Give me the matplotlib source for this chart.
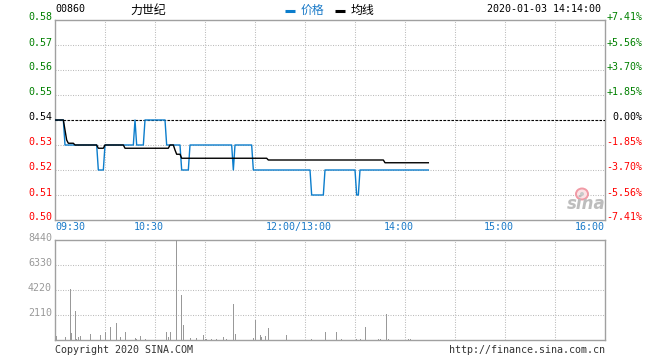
import matplotlib
matplotlib.use("Agg")
import matplotlib.pyplot as plt
import matplotlib.transforms as mtransforms
from matplotlib.patches import Ellipse

# ---------------- data ----------------
code = "00860"
name = "力世纪"
timestamp = "2020-01-03 14:14:00"
prev_close = 0.54

price_min = [0, 5, 6, 25, 26, 29, 30, 47, 48, 49, 53, 54, 66, 67, 75, 76, 80, 81,
             106, 107, 108, 118, 119, 153, 154, 161, 162, 180, 181, 182, 183, 224]
price_val = [.54, .54, .53, .53, .52, .52, .53, .53, .54, .53, .53, .54, .54, .53, .53,
             .52, .52, .53, .53, .52, .53, .53, .52, .52, .51, .51, .52, .52, .51, .51,
             .52, .52]

avg_min = [0, 5, 6, 7, 8, 11, 12, 25, 26, 29, 30, 41, 42, 68, 69, 71, 72, 73, 75, 76,
           127, 128, 197, 198, 224]
avg_val = [.54, .54, .536, .532, .5307, .5307, .53, .53, .5287, .5287, .53, .53, .5287,
           .5287, .53, .53, .528, .5263, .5263, .5247, .5247, .524, .524, .5229, .5229]

vol_min = [1, 6, 9, 10, 12, 13, 14, 15, 21, 27, 30, 33, 37, 39, 42, 48, 49, 51, 54, 67,
           68, 69, 73, 76, 77, 81, 85, 89, 90, 91, 94, 97, 101, 103, 107, 108, 119, 120,
           123, 124, 126, 128, 139, 154, 162, 169, 172, 181, 183, 186, 194, 195, 199,
           200, 212, 213]
vol = [338, 225, 4300, 590, 2450, 60, 280, 340, 500, 420, 650, 1125, 1435, 250, 675, 170,
       110, 340, 56, 675, 280, 675, 8440, 3800, 1270, 170, 170, 420, 110, 80, 80, 80, 250,
       80, 3040, 510, 140, 1690, 420, 280, 340, 1010, 420, 80, 675, 675, 56, 60, 60, 1100,
       60, 60, 2170, 60, 60, 60]

price_ticks = [0.50, 0.51, 0.52, 0.53, 0.54, 0.55, 0.56, 0.57, 0.58]
vol_ticks = [2110, 4220, 6330, 8440]
time_pos = [0, 60, 150, 210, 270, 330]
time_labels = ["09:30", "10:30", "12:00/13:00", "14:00", "15:00", "16:00"]

# ---------------- style ----------------
W, H = 660, 360
MONO = "DejaVu Sans Mono"
CJK = ["Noto Sans CJK SC", "DejaVu Sans"]
FS = 7.2
BLUE = "#0b7dcc"
TBLUE = "#1a7ac8"
GREEN = "#008000"
RED = "#ff0000"
BORDER = "#a0a0a0"
GRID = "#bcbcbc"
VOLC = "#999999"

fig = plt.figure(figsize=(W / 100, H / 100), dpi=100)


def fx(x):
    return x / W


def fy(y):
    return 1 - y / H


def box(l, t, r, b):
    return [fx(l), fy(b), (r - l) / W, (b - t) / H]


ax = fig.add_axes(box(55, 20, 605, 220))
axv = fig.add_axes(box(55, 240, 605, 340))

for a in (ax, axv):
    a.set_xlim(0, 330)
    for s in a.spines.values():
        s.set_color(BORDER)
        s.set_linewidth(1.0)
    a.tick_params(left=False, bottom=False, labelleft=False, labelbottom=False)
    a.set_xticks([30 * k for k in range(1, 11)])
    a.grid(True, color=GRID, linestyle=(0, (1, 1.4)), linewidth=0.75)
    a.set_axisbelow(True)

ax.set_ylim(0.50, 0.58)
ax.set_yticks(price_ticks[1:-1])
axv.set_ylim(0, 8440)
axv.set_yticks(vol_ticks[:-1])

# prev-close dashed line
ax.axhline(prev_close, color="black", linestyle=(0, (2.2, 1.4)), linewidth=0.8, zorder=3)
# price and average lines
ax.plot(price_min, price_val, color=BLUE, linewidth=1.0, zorder=4)
ax.plot(avg_min, avg_val, color="black", linewidth=1.0, zorder=5)

# volume bars
axv.bar(vol_min, vol, width=0.6, color=VOLC, linewidth=0, zorder=3)

# left & right price labels
ytr = ax.get_yaxis_transform()
left_tr = mtransforms.offset_copy(ytr, fig=fig, x=-3, y=2.5, units="dots")
right_tr = mtransforms.offset_copy(ytr, fig=fig, x=37.5, y=2.5, units="dots")
for p in price_ticks:
    if p > prev_close + 1e-9:
        c = GREEN
    elif p < prev_close - 1e-9:
        c = RED
    else:
        c = "black"
    ax.text(0, p, f"{p:.2f}", transform=left_tr, ha="right", va="center",
            fontsize=FS, family=MONO, color=c)
    pct = (p - prev_close) / prev_close * 100
    lab = f"{pct:+.2f}%" if abs(pct) > 1e-9 else "0.00%"
    ax.text(1, p, lab, transform=right_tr, ha="right", va="center",
            fontsize=FS, family=MONO, color=c)

# volume labels
vtr = mtransforms.offset_copy(axv.get_yaxis_transform(), fig=fig, x=-3, y=2,
                              units="dots")
for v in vol_ticks:
    axv.text(0, v, f"{v}", transform=vtr, ha="right", va="center",
             fontsize=FS, family=MONO, color=VOLC)

# time labels
xtr = ax.get_xaxis_transform()
for i, (t, lab) in enumerate(zip(time_pos, time_labels)):
    if i == 0:
        ha, dx = "left", 0
    elif i == len(time_pos) - 1:
        ha, dx = "right", 0
    else:
        ha, dx = "center", -6
    tr = mtransforms.offset_copy(xtr, fig=fig, x=dx, y=-7, units="dots")
    ax.text(t, 0, lab, transform=tr, ha=ha, va="center", fontsize=FS,
            family=MONO, color=TBLUE)

# header
fig.text(fx(55), fy(9), code, fontsize=FS, family=MONO, color="black",
         ha="left", va="center")
fig.text(fx(148), fy(10), name, fontsize=8.6, family=CJK, color="black",
         ha="center", va="center")
fig.add_artist(plt.Line2D([fx(285), fx(295)], [fy(11), fy(11)], color=BLUE,
                          linewidth=2.2, solid_capstyle="butt"))
fig.text(fx(301), fy(10), "价格", fontsize=8.6, family=CJK, color=TBLUE,
         ha="left", va="center")
fig.add_artist(plt.Line2D([fx(335), fx(345)], [fy(11), fy(11)], color="black",
                          linewidth=2.2, solid_capstyle="butt"))
fig.text(fx(351), fy(10), "均线", fontsize=8.6, family=CJK, color="black",
         ha="left", va="center")
fig.text(fx(601), fy(9), timestamp, fontsize=FS, family=MONO, color="black",
         ha="right", va="center")

# footer
fig.text(fx(55), fy(350), "Copyright 2020 SINA.COM", fontsize=FS, family=MONO,
         color="#333333", ha="left", va="center")
fig.text(fx(605), fy(350), "http://finance.sina.com.cn", fontsize=FS, family=MONO,
         color="#333333", ha="right", va="center")

# sina watermark
fig.add_artist(Ellipse((fx(582), fy(194)), 12 / W, 11 / H, transform=fig.transFigure,
                       facecolor="#fbe3e6", edgecolor="#f19aa5", linewidth=1.4))
fig.add_artist(Ellipse((fx(582), fy(194)), 4 / W, 4 / H, transform=fig.transFigure,
                       facecolor="#c9c9c9", edgecolor="none"))
fig.text(fx(586), fy(204), "sina", fontsize=12, fontweight="bold", style="italic",
         family="DejaVu Sans", color="#bdbdbd", ha="center", va="center")

fig.savefig("out.png", dpi=100)
